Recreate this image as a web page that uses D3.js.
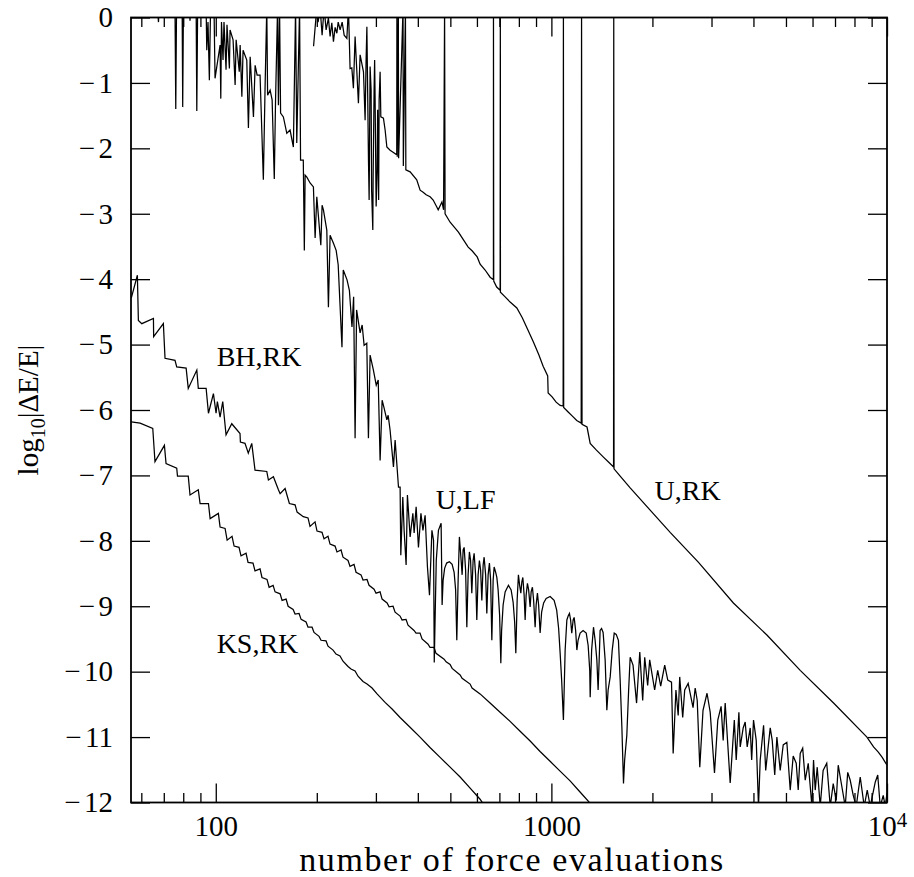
<!DOCTYPE html>
<html><head><meta charset="utf-8">
<script src="https://cdn.jsdelivr.net/npm/d3@7"></script>
<style>
body{margin:0;background:#fff}
text{font-family:"Liberation Serif","Times New Roman",serif;fill:#000}
</style>
</head><body>
<svg id="chart" width="914" height="877"></svg>
<script>
// ---------------- data ----------------
const xDomain = [55.9, 10000];
const yDomain = [-12, 0];
const yTickValues = [0,-1,-2,-3,-4,-5,-6,-7,-8,-9,-10,-11,-12];
const xMajorTicks = [100, 1000, 10000];
const xMajorLabels = ["100", "1000", "10^4"];
const xMinorTicks = [60,70,80,90,200,300,400,500,600,700,800,900,2000,3000,4000,5000,6000,7000,8000,9000];
const xTitle = "number of force evaluations";
const seriesNames = ["U,RK", "U,LF", "BH,RK", "KS,RK"];
// label anchors in data units [force evaluations, log10|dE/E|]
const labelAnchors = [[2030, -7.38], [452, -7.52], [100.6, -5.33], [100.6, -9.72]];

// series: [number of force evaluations, log10|dE/E|]
const seriesURK = [[195.6,-0.44],[200,0.15],[201.8,-0.07],[204.6,0.15],[207.4,-0.27],[210.3,0.15],[213.2,-0.19],[216.6,-0.01],[219.1,-0.29],[221.7,-0.08],[224.2,-0.37],[226.8,-0.15],[229.5,-0.24],[231.6,-0.07],[234.7,-0.19],[238,-0.07],[241.3,-0.27],[245.8,-0.32],[248.5,0.15],[251.3,-0.78],[254.3,-0.77],[257.1,-1.08],[260.1,-0.29],[266.1,-1.31],[269.2,-0.57],[275.5,-0.83],[278.6,-1.57],[280.5,-0.65],[282,-0.14],[285.1,-2.18],[286.4,-2.79],[288.3,-0.75],[290.3,-1.11],[291.3,-2.64],[293.7,-3.25],[294.3,-2.48],[296.3,-1.11],[297.4,-0.65],[298.4,-1.26],[300.5,-2.89],[302.5,-2.33],[303.6,-1.41],[305.7,-2.79],[306.7,-1.26],[308.8,-0.83],[310.3,-1.52],[315.9,-1.54],[319.6,-1.72],[323.4,-1.98],[330.7,-2.03],[337.5,-2.06],[346.1,-2.10],[346.5,0.15],[347.3,-2.13],[349.9,0.15],[350.6,-2.15],[361.4,0.15],[362.1,-2.27],[367.4,0.15],[368.4,-2.33],[379.4,-2.36],[397,-2.48],[406.3,-2.64],[414.8,-2.67],[423.5,-2.71],[435.2,-2.74],[444.4,-2.79],[456,-2.90],[460,-2.94],[472,-2.82],[477.3,-2.94],[480.6,0.15],[482.2,-3.00],[499.2,-3.13],[516.6,-3.22],[528.5,-3.28],[547.1,-3.40],[565.1,-3.51],[581.3,-3.57],[601.1,-3.66],[613.3,-3.77],[634.7,-3.86],[656.9,-3.97],[671.9,-4.01],[672.1,0.15],[673.3,-4.03],[687.1,-4.12],[703.5,-4.17],[704.5,0.15],[705,-4.20],[728.1,-4.27],[753.5,-4.35],[789,-4.44],[819,-4.59],[852,-4.78],[884,-4.96],[918,-5.16],[945,-5.33],[975,-5.48],[978,-5.74],[1005,-5.80],[1033,-5.88],[1062,-5.93],[1084,-5.94],[1086,0.15],[1088,-5.96],[1122,-6.03],[1153,-6.09],[1190,-6.16],[1227,-6.20],[1230,0.15],[1234,-6.22],[1277,-6.26],[1305,-6.51],[1360,-6.61],[1429,-6.72],[1490,-6.81],[1532,-6.87],[1534,0.15],[1537,-6.90],[1603,-7.01],[1717,-7.19],[1969,-7.53],[2259,-7.87],[2744,-8.33],[3486,-8.95],[4387,-9.44],[5513,-9.98],[6931,-10.48],[8714,-11.00],[9119,-11.15],[9421,-11.23],[9678,-11.31],[10000,-11.43]];

const seriesULF = [[56,0.15],[67,0.15],[67.5,-0.07],[67.8,0.15],[75.6,0.15],[76,-1.40],[76.4,0.15],[79.4,0.15],[79.7,-1.37],[80.1,0.15],[83.5,0.15],[83.8,-0.05],[84.1,0.15],[87.4,0.15],[87.8,-1.43],[88.3,0.15],[93.6,0.15],[94,-0.50],[94.8,-0.07],[95.7,-0.96],[96.5,0.15],[98.8,0.15],[99.5,-0.93],[103,-0.42],[103.5,-1.24],[104,-0.07],[105.1,-0.65],[105.8,-0.07],[107.3,-0.80],[108,-0.11],[109.8,-0.78],[110.3,-0.19],[112.6,-0.34],[114.2,-1.03],[115,-0.34],[117.5,-0.83],[118.2,-0.42],[119.6,-1.21],[120.6,-0.50],[123.7,-0.65],[125.1,-1.69],[126.6,-0.60],[129.5,-1.52],[131,-0.73],[132.8,-0.88],[135.5,-0.88],[138.6,-2.48],[140.3,-1.03],[141.9,0.15],[142.7,-1.19],[145.2,-1.11],[147.2,-1.26],[149.4,-2.47],[150.7,-1.26],[152.8,0.15],[153.7,-1.34],[154.9,0.15],[156,-1.46],[159,-1.52],[162.8,-1.77],[166.5,-1.72],[170.3,-1.98],[172.9,0.15],[174.3,-1.92],[177.7,0.15],[178.9,-2.18],[182.3,-2.18],[183.6,-3.56],[184.6,-2.41],[186.8,-2.44],[191,-2.53],[195.4,-2.59],[197.7,-3.37],[200,-2.74],[205.6,-3.48],[207.4,-2.87],[209.3,-2.94],[214.2,-3.25],[216.6,-4.43],[219.1,-3.33],[224.2,-3.45],[228.4,-3.56],[231.6,-3.78],[237.7,-5.04],[239.8,-3.86],[246.1,-4.01],[250.1,-4.17],[254.6,-4.73],[257.5,-4.27],[260.1,-6.43],[262.8,-4.47],[269.2,-4.82],[273,-4.70],[276.7,-5.01],[281.8,-4.98],[285,-6.43],[288.3,-5.16],[294.9,-5.39],[300.7,-5.62],[304.8,-5.54],[308.8,-6.77],[313.1,-5.85],[317.4,-5.97],[323.4,-6.15],[326.3,-6.08],[330.7,-6.31],[338.4,-6.87],[342.3,-6.46],[350.3,-7.18],[354.2,-7.18],[355.9,-8.22],[360.8,-7.33],[364.1,-7.84],[369.1,-8.37],[372.4,-7.30],[379.4,-7.94],[386.6,-7.58],[390,-7.88],[395.4,-7.48],[401.7,-8.10],[408.6,-7.58],[414.3,-7.84],[420.5,-7.61],[427.3,-8.40],[433.3,-8.83],[440.6,-7.84],[445.5,-7.99],[447.7,-9.86],[453.9,-8.30],
[460.7,-7.84],[469.3,-7.73],[472.5,-8.98],[475.8,-8.60],[480.7,-8.42],[487.4,-8.34],[496.8,-8.32],[506.1,-8.36],[513.1,-8.48],[518.4,-8.75],[522.6,-9.52],[527.4,-8.60],[532,-7.94],[538.4,-8.30],[542.1,-8.52],[545.8,-8.14],[549.6,-8.10],[555.2,-8.45],[559.8,-9.32],[564.8,-8.52],[569.8,-8.17],[574.5,-8.30],[579.3,-8.80],[584.5,-8.30],[588.6,-8.19],[594.6,-8.52],[599.5,-9.21],[604.9,-8.52],[610.3,-8.30],[615.4,-8.45],[620.5,-8.91],[626.1,-8.37],[630.4,-8.25],[636.9,-8.52],[642.1,-9.11],[647.9,-8.52],[653.7,-8.34],[659.1,-8.60],[664.6,-9.52],[670.6,-8.60],[675.2,-8.40],[682.1,-8.48],[687.8,-8.56],[693.9,-8.75],[701.1,-9.14],[706.9,-9.87],[710.7,-9.37],[718.1,-8.98],[728.1,-8.78],[744.8,-8.68],[758.7,-8.75],[769.2,-8.94],[777.2,-9.24],[783.5,-9.72],[790.6,-8.91],[797.6,-8.52],[804.3,-8.68],[810.9,-8.80],[816.4,-8.63],[822.1,-8.56],[829.5,-8.83],[835.2,-9.21],[841,-8.83],[848.5,-8.65],[855.5,-8.75],[864.3,-9.01],[870.3,-8.78],[878,-8.71],[885.3,-8.91],[894.5,-9.32],[900.7,-8.98],[908.7,-8.80],[916.2,-8.98],[925.7,-9.41],[935.2,-9.09],[948.2,-8.95],[964.6,-8.88],[991.5,-8.85],[1019,-8.91],[1037,-9.06],[1051,-9.34],[1062,-9.72],[1073,-10.13],[1086,-10.74],[1099,-9.67],[1112,-9.21],[1122,-9.15],[1132,-9.11],[1141,-9.21],[1150,-9.41],[1161,-9.21],[1169,-9.17],[1181,-9.37],[1191,-9.67],[1201,-9.52],[1218,-9.41],[1243,-9.37],[1270,-9.41],[1287,-9.60],[1301,-9.98],[1305,-10.39],[1318,-9.67],[1335,-9.32],[1350,-9.52],[1366,-9.82],[1378,-10.28],[1388,-9.82],[1397,-9.37],[1411,-9.34],[1426,-9.40],[1446,-9.82],[1463,-10.59],[1476,-10.28],[1497,-10.08],[1518,-9.67],[1539,-9.41],[1560,-9.43],[1584,-9.52],[1603,-10.13],[1622,-10.85],[1640,-11.71],[1653,-11.35],[1678,-10.97],[1699,-10.28],[1717,-9.78],
[1751,-9.90],[1794,-10.48],[1834,-9.70],[1871,-10.44],[1897,-9.78],[1936,-10.21],[1963,-9.82],[2031,-10.28],[2074,-9.98],[2117,-10.22],[2176,-9.90],[2222,-10.13],[2280,-10.16],[2306,-11.25],[2350,-10.28],[2387,-10.67],[2412,-10.08],[2462,-10.70],[2496,-10.28],[2556,-10.18],[2643,-10.55],[2682,-10.25],[2720,-10.44],[2768,-11.46],[2830,-10.59],[2909,-10.33],[2973,-10.62],[3062,-11.55],[3132,-10.74],[3204,-10.53],[3250,-11.05],[3295,-10.48],[3410,-11.70],[3508,-10.74],[3554,-11.35],[3620,-10.62],[3653,-11.15],[3728,-10.86],[3780,-10.77],[3832,-11.15],[3912,-10.86],[3952,-11.35],[4002,-10.74],[4077,-11.05],[4141,-12.06],[4190,-11.35],[4288,-10.82],[4351,-11.51],[4425,-11.15],[4488,-10.86],[4550,-11.05],[4629,-11.58],[4698,-11.00],[4806,-11.51],[4906,-11.12],[5030,-11.08],[5148,-11.81],[5254,-11.29],[5364,-11.40],[5438,-11.81],[5513,-11.25],[5608,-11.17],[5706,-11.66],[5825,-11.40],[5976,-12.06],[6041,-11.35],[6111,-11.81],[6196,-11.46],[6324,-12.06],[6452,-11.51],[6614,-11.40],[6774,-12.06],[6915,-11.71],[7059,-11.97],[7156,-11.43],[7255,-11.61],[7508,-12.06],[7638,-11.54],[7770,-11.66],[7932,-11.89],[8096,-12.06],[8322,-11.61],[8553,-12.06],[8732,-11.81],[8913,-12.06],[9224,-11.69],[9384,-11.58],[9546,-12.06],[9745,-11.89],[9879,-12.06],[10000,-11.86]];

const seriesBHRK = [[56,-4.29],[58.4,-3.94],[58.8,-4.63],[60.2,-4.68],[65.2,-4.60],[65.3,-4.88],[69.8,-4.68],[70.6,-5.21],[75.6,-5.24],[76.5,-5.34],[81.6,-5.36],[82.8,-5.67],[87.8,-5.39],[88.7,-5.67],[93.6,-5.67],[95.1,-6.05],[98.4,-5.75],[100.2,-6.05],[101.1,-5.87],[103,-6.11],[104.9,-5.87],[107.3,-6.38],[111.6,-6.21],[118.1,-6.36],[118.4,-6.49],[122.2,-6.51],[125,-6.66],[128,-6.51],[130.9,-6.92],[141.9,-6.94],[143.5,-7.07],[148.5,-7.02],[153.7,-7.22],[155.5,-7.28],[160.9,-7.20],[165.7,-7.43],[172.3,-7.45],[174.7,-7.56],[182.3,-7.63],[188.3,-7.65],[190.9,-7.78],[197.6,-7.71],[200.3,-7.85],[207.3,-7.87],[210.2,-7.97],[216,-7.93],[219,-8.05],[226.7,-8.08],[229.7,-8.17],[236.2,-8.14],[239.4,-8.25],[247.8,-8.30],[251.2,-8.39],[258.2,-8.36],[261.8,-8.48],[270.9,-8.52],[274.6,-8.60],[282.3,-8.59],[286.2,-8.68],[296.2,-8.74],[300.3,-8.80],[308.7,-8.78],[313,-8.89],[323.9,-8.95],[328.4,-9.01],[337.5,-9.00],[342.2,-9.09],[354.1,-9.15],[359,-9.21],[368.9,-9.20],[374,-9.29],[389.7,-9.37],[395.1,-9.41],[406.1,-9.41],[411.7,-9.50],[429.1,-9.58],[434.9,-9.63],[447.1,-9.63],[453.2,-9.72],[479,-9.81],[485.6,-9.85],[499.1,-9.89],[506.1,-9.95],[534.6,-10.05],[542,-10.10],[572.6,-10.19],[580.3,-10.25],[613.1,-10.34],[656.6,-10.48],[703.3,-10.62],[753.3,-10.76],[806.9,-10.91],[864.4,-11.06],[925.4,-11.22],[991.1,-11.37],[1061.5,-11.52],[1136.9,-11.67],[1217.3,-11.84],[1303.8,-12.01],[1320,-12.05]];

const seriesKSRK = [[56,-6.18],[59.5,-6.20],[64.9,-6.28],[65.9,-6.79],[70.3,-6.54],[71.1,-6.82],[76.5,-6.89],[76.9,-7.01],[82.8,-7.01],[83.8,-7.30],[88.7,-7.22],[89.8,-7.43],[95.1,-7.43],[96.2,-7.66],[101.8,-7.58],[103,-7.79],[106.6,-7.81],[108.1,-7.99],[111.8,-7.93],[113.4,-8.08],[117.3,-8.10],[118.9,-8.23],[123.1,-8.19],[124.8,-8.33],[129.1,-8.34],[130.9,-8.46],[135.5,-8.43],[137.3,-8.56],[142.1,-8.59],[144.2,-8.71],[148.2,-8.68],[150.2,-8.78],[155.5,-8.81],[157.6,-8.91],[162,-8.89],[164.3,-9.00],[170,-9.05],[172.3,-9.12],[177.1,-9.11],[179.6,-9.20],[185.8,-9.24],[188.3,-9.32],[193.6,-9.32],[196.2,-9.40],[203.1,-9.46],[205.9,-9.52],[213.1,-9.53],[216,-9.61],[223.6,-9.67],[228.2,-9.73],[234.5,-9.76],[239.4,-9.84],[247.8,-9.92],[252.9,-9.96],[260,-9.99],[265.4,-10.07],[274.6,-10.15],[282.3,-10.19],[292.2,-10.25],[302.4,-10.34],[319.5,-10.47],[335.2,-10.57],[354.1,-10.70],[379.2,-10.85],[406.1,-11.00],[434.9,-11.16],[466.1,-11.31],[499.1,-11.46],[534.6,-11.61],[572.6,-11.78],[613.1,-11.95],[630,-12.04]];

const allSeries = [seriesURK, seriesULF, seriesBHRK, seriesKSRK];

// ---------------- layout ----------------
const plot = {left: 131, right: 887, top: 17.5, bottom: 802.5};
const svg = d3.select("#chart");

const x = d3.scaleLog().domain(xDomain).range([plot.left, plot.right]);
const y = d3.scaleLinear().domain(yDomain).range([plot.bottom, plot.top]);

svg.append("defs").append("clipPath").attr("id", "clip")
  .append("rect").attr("x", plot.left).attr("y", plot.top)
  .attr("width", plot.right - plot.left).attr("height", plot.bottom - plot.top);

const majorLen = 19, minorLen = 9.5;
const tickFont = 29;

// bottom axis (major with labels)
const gB = svg.append("g").attr("transform", `translate(0,${plot.bottom})`)
  .call(d3.axisBottom(x).tickValues(xMajorTicks).tickSize(-majorLen).tickSizeOuter(0)
    .tickPadding(13).tickFormat((d,i) => xMajorLabels[i]));
gB.selectAll(".tick text").each(function(d,i){
  const t = d3.select(this);
  const lab = xMajorLabels[i];
  if (lab.indexOf("^") >= 0) {
    const parts = lab.split("^");
    t.text(null);
    t.append("tspan").text(parts[0]);
    t.append("tspan").attr("dy", "-0.42em").attr("font-size", "0.72em").text(parts[1]);
  }
});
svg.append("g").attr("transform", `translate(0,${plot.bottom})`)
  .call(d3.axisBottom(x).tickValues(xMinorTicks).tickSize(-minorLen).tickSizeOuter(0).tickFormat(""));
// top axis
svg.append("g").attr("transform", `translate(0,${plot.top})`)
  .call(d3.axisTop(x).tickValues(xMajorTicks).tickSize(-majorLen).tickSizeOuter(0).tickFormat(""));
svg.append("g").attr("transform", `translate(0,${plot.top})`)
  .call(d3.axisTop(x).tickValues(xMinorTicks).tickSize(-minorLen).tickSizeOuter(0).tickFormat(""));
// left axis
const gL = svg.append("g").attr("transform", `translate(${plot.left},0)`)
  .call(d3.axisLeft(y).tickValues(yTickValues).tickSize(-majorLen).tickSizeOuter(0).tickPadding(18)
    .tickFormat(d => d === 0 ? "0" : String(Math.abs(d))));
gL.selectAll(".tick text").each(function(d){
  if (d < 0) {
    const t = d3.select(this);
    const s = t.text();
    t.text(null);
    t.append("tspan").text("\u2212");
    t.append("tspan").attr("dx", "0.12em").text(s);
  }
});
// right axis
svg.append("g").attr("transform", `translate(${plot.right},0)`)
  .call(d3.axisRight(y).tickValues(yTickValues).tickSize(-majorLen).tickSizeOuter(0).tickFormat(""));

svg.selectAll(".domain").remove();
svg.selectAll(".tick line").attr("stroke", "#000").attr("stroke-width", 1.3);
svg.selectAll(".tick text").attr("font-family", "Liberation Serif, serif").attr("font-size", tickFont).attr("fill", "#000");

// frame
svg.append("rect").attr("x", plot.left).attr("y", plot.top)
  .attr("width", plot.right - plot.left).attr("height", plot.bottom - plot.top)
  .attr("fill", "none").attr("stroke", "#000").attr("stroke-width", 1.8);

// series
const line = d3.line().x(d => x(d[0])).y(d => y(d[1]));
svg.append("g").attr("clip-path", "url(#clip)")
  .selectAll("path").data(allSeries).join("path")
  .attr("d", line).attr("fill", "none").attr("stroke", "#000")
  .attr("stroke-width", 1.25).attr("stroke-linejoin", "miter");

// curve labels
svg.append("g").selectAll("text").data(seriesNames).join("text")
  .attr("x", (d,i) => x(labelAnchors[i][0]))
  .attr("y", (d,i) => y(labelAnchors[i][1]))
  .attr("font-size", 28).text(d => d);

// axis titles
svg.append("text").attr("x", (plot.left + plot.right) / 2 + 3).attr("y", 871)
  .attr("text-anchor", "middle").attr("font-size", 34).attr("letter-spacing", "1.6px").text(xTitle);

const yt = svg.append("text").attr("transform", `translate(38,${(plot.top + plot.bottom) / 2}) rotate(-90)`)
  .attr("text-anchor", "middle").attr("font-size", 29);
yt.append("tspan").text("log");
yt.append("tspan").attr("font-size", 20).attr("dy", 7).text("10");
yt.append("tspan").attr("dy", -7).text("|\u0394E/E|");
</script>
</body></html>
